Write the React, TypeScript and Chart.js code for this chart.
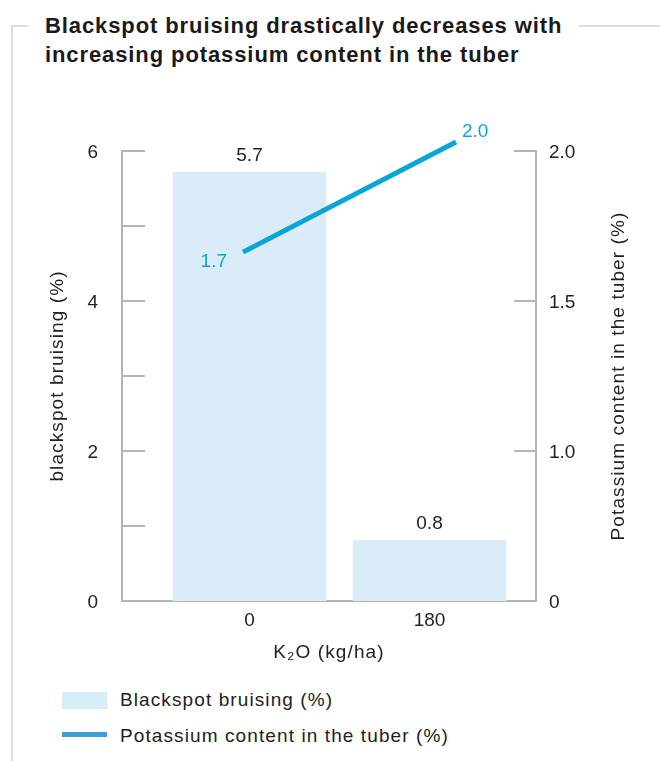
import React, { useEffect, useRef } from "react";
import { Chart, registerables } from "chart.js";

Chart.register(...registerables);

// ---- data ----
const categories = [0, 180];
const bruising = [5.72, 0.81];
const potassium = [1.663, 2.03];
const leftTicks = [0, 1, 2, 3, 4, 5, 6];
const leftLabeledTicks = [0, 2, 4, 6];
const rightTicks = [0.5, 1.0, 1.5, 2.0];
const rightTickLabels = ["0", "1.0", "1.5", "2.0"];
const titleLines = [
  "Blackspot bruising drastically decreases with",
  "increasing potassium content in the tuber",
];
const xTitle = "K₂O (kg/ha)";
const yTitle = "blackspot bruising (%)";
const y2Title = "Potassium content in the tuber (%)";
const seriesNames = ["Blackspot bruising (%)", "Potassium content in the tuber (%)"];

// ---- style ----
const FONT = "'Liberation Sans', Arial, Helvetica, sans-serif";
const TEXT = "#222222";
const AXIS = "#b4b4b4";
const BAR = "#daecf8";
const LINE = "#0aa5d8";
const LEGEND_BOX = "#d5eef8";
const LEGEND_LINE = "#3c9fd6";
const FRAME = "#dddddd";

const decorations = {
  id: "decorations",
  afterDraw(chart: any) {
    const { ctx, chartArea, scales } = chart;
    const y = scales.y;
    const y2 = scales.y2;
    ctx.save();
    // inward tick marks
    ctx.strokeStyle = AXIS;
    ctx.lineWidth = 2;
    leftTicks.forEach((v) => {
      if (v === 0) return;
      const py = Math.round(y.getPixelForValue(v));
      ctx.beginPath();
      ctx.moveTo(chartArea.left, py);
      ctx.lineTo(chartArea.left + 23, py);
      ctx.stroke();
    });
    rightTicks.forEach((v, i) => {
      if (i === 0) return;
      const py = Math.round(y2.getPixelForValue(v));
      ctx.beginPath();
      ctx.moveTo(chartArea.right - 22, py);
      ctx.lineTo(chartArea.right, py);
      ctx.stroke();
    });

    // axis titles
    const cy = (chartArea.top + chartArea.bottom) / 2;
    const cx = (chartArea.left + chartArea.right) / 2;
    ctx.fillStyle = TEXT;
    ctx.font = `19px ${FONT}`;
    (ctx as any).letterSpacing = "1.1px";
    ctx.textAlign = "center";
    ctx.textBaseline = "alphabetic";
    ctx.save();
    ctx.translate(63, cy);
    ctx.rotate(-Math.PI / 2);
    ctx.fillText(yTitle, 0, 0);
    ctx.restore();
    ctx.save();
    ctx.translate(624, cy);
    ctx.rotate(-Math.PI / 2);
    ctx.fillText(y2Title, 0, 0);
    ctx.restore();
    ctx.fillText(xTitle, cx, 658);

    // value labels
    (ctx as any).letterSpacing = "0px";
    const barMeta = chart.getDatasetMeta(1);
    barMeta.data.forEach((el: any, i: number) => {
      ctx.fillStyle = TEXT;
      ctx.textAlign = "center";
      ctx.fillText(bruising[i].toFixed(1), el.x, el.y - 11);
    });
    const lineMeta = chart.getDatasetMeta(0);
    ctx.fillStyle = LINE;
    const p0 = lineMeta.data[0];
    const p1 = lineMeta.data[1];
    ctx.textAlign = "right";
    ctx.fillText(potassium[0].toFixed(1), p0.x - 16, p0.y + 15);
    ctx.textAlign = "left";
    ctx.fillText(potassium[1].toFixed(1), p1.x + 6, p1.y - 5);
    ctx.restore();
  },
};

function ChartCanvas() {
  const ref = useRef<HTMLCanvasElement | null>(null);
  useEffect(() => {
    if (!ref.current) return;
    Chart.defaults.font.family = FONT;
    const chart = new Chart(ref.current, {
      type: "bar",
      data: {
        datasets: [
          {
            type: "line",
            label: seriesNames[1],
            data: categories.map((c, i) => ({ x: c, y: potassium[i] })),
            xAxisID: "x2",
            yAxisID: "y2",
            borderColor: LINE,
            backgroundColor: LINE,
            borderWidth: 5,
            borderCapStyle: "butt",
            pointRadius: 0,
            tension: 0,
            clip: false,
            order: 0,
          } as any,
          {
            type: "bar",
            label: seriesNames[0],
            data: categories.map((c, i) => ({ x: c, y: bruising[i] })),
            xAxisID: "x",
            yAxisID: "y",
            backgroundColor: BAR,
            borderWidth: 0,
            barThickness: 153,
            grouped: false,
            order: 1,
          } as any,
        ],
      },
      options: {
        responsive: false,
        animation: false,
        events: [],
        layout: { padding: { top: 151, left: 0, right: 0, bottom: 0 } },
        plugins: {
          legend: { display: false },
          tooltip: { enabled: false },
          title: { display: false },
        },
        scales: {
          x: {
            type: "linear",
            position: "bottom",
            min: -127.5,
            max: 286.5,
            offset: false,
            afterBuildTicks: (s: any) => {
              s.ticks = categories.map((v) => ({ value: v }));
            },
            afterFit: (s: any) => {
              s.height = 79;
            },
            ticks: {
              callback: (v: any) => String(v),
              font: { family: FONT, size: 19 },
              color: TEXT,
              padding: 8,
              maxRotation: 0,
              autoSkip: false,
            },
            grid: { display: false, drawTicks: false },
            border: { display: true, color: AXIS, width: 2 },
          },
          x2: {
            type: "linear",
            position: "bottom",
            display: true,
            min: -102.25,
            max: 247.6,
            offset: false,
            afterFit: (s: any) => {
              s.height = 0;
            },
            ticks: { display: false },
            grid: { display: false, drawTicks: false },
            border: { display: false },
          },
          y: {
            type: "linear",
            position: "left",
            min: 0,
            max: 6,
            afterBuildTicks: (s: any) => {
              s.ticks = leftTicks.map((v) => ({ value: v }));
            },
            afterFit: (s: any) => {
              s.width = 122;
            },
            ticks: {
              callback: (v: any) => (leftLabeledTicks.includes(v) ? String(v) : ""),
              font: { family: FONT, size: 19 },
              color: TEXT,
              padding: 24,
              labelOffset: 2,
            },
            grid: { display: false, drawTicks: false },
            border: { display: true, color: AXIS, width: 2 },
          },
          y2: {
            type: "linear",
            position: "right",
            min: 0.5,
            max: 2.0,
            afterBuildTicks: (s: any) => {
              s.ticks = rightTicks.map((v) => ({ value: v }));
            },
            afterFit: (s: any) => {
              s.width = 124;
            },
            ticks: {
              callback: (_v: any, i: number) => rightTickLabels[i],
              font: { family: FONT, size: 19 },
              color: TEXT,
              padding: 13,
              labelOffset: 2,
            },
            grid: { display: false, drawTicks: false },
            border: { display: true, color: AXIS, width: 2 },
          },
        },
      } as any,
      plugins: [decorations],
    });
    return () => chart.destroy();
  }, []);
  return (
    <canvas
      ref={ref}
      width={660}
      height={680}
      style={{ position: "absolute", left: 0, top: 0, width: 660, height: 680 }}
    />
  );
}

export default function App() {
  const legendText: React.CSSProperties = {
    position: "absolute",
    left: 120,
    fontFamily: FONT,
    fontSize: 19,
    lineHeight: "22px",
    letterSpacing: "1.1px",
    color: TEXT,
    whiteSpace: "nowrap",
  };
  return (
    <div
      style={{
        position: "absolute",
        left: 0,
        top: 0,
        width: 660,
        height: 761,
        overflow: "hidden",
        background: "#ffffff",
      }}
    >
      {/* frame */}
      <div style={{ position: "absolute", left: 11, top: 25, width: 2, height: 736, background: FRAME }} />
      <div style={{ position: "absolute", left: 11, top: 25, width: 17, height: 2, background: FRAME }} />
      <div style={{ position: "absolute", left: 579, top: 25, width: 81, height: 2, background: FRAME }} />
      {/* title */}
      <div
        style={{
          position: "absolute",
          left: 45,
          top: 11,
          fontFamily: FONT,
          fontWeight: "bold",
          fontSize: 22,
          lineHeight: "29px",
          letterSpacing: "0.9px",
          color: "#1a1a1a",
          whiteSpace: "nowrap",
        }}
      >
        {titleLines[0]}
        <br />
        {titleLines[1]}
      </div>
      <ChartCanvas />
      {/* legend */}
      <div style={{ position: "absolute", left: 62, top: 692, width: 45, height: 17, background: LEGEND_BOX }} />
      <div style={{ ...legendText, top: 689 }}>{seriesNames[0]}</div>
      <div style={{ position: "absolute", left: 62, top: 732, width: 45, height: 5, background: LEGEND_LINE }} />
      <div style={{ ...legendText, top: 725 }}>{seriesNames[1]}</div>
    </div>
  );
}
